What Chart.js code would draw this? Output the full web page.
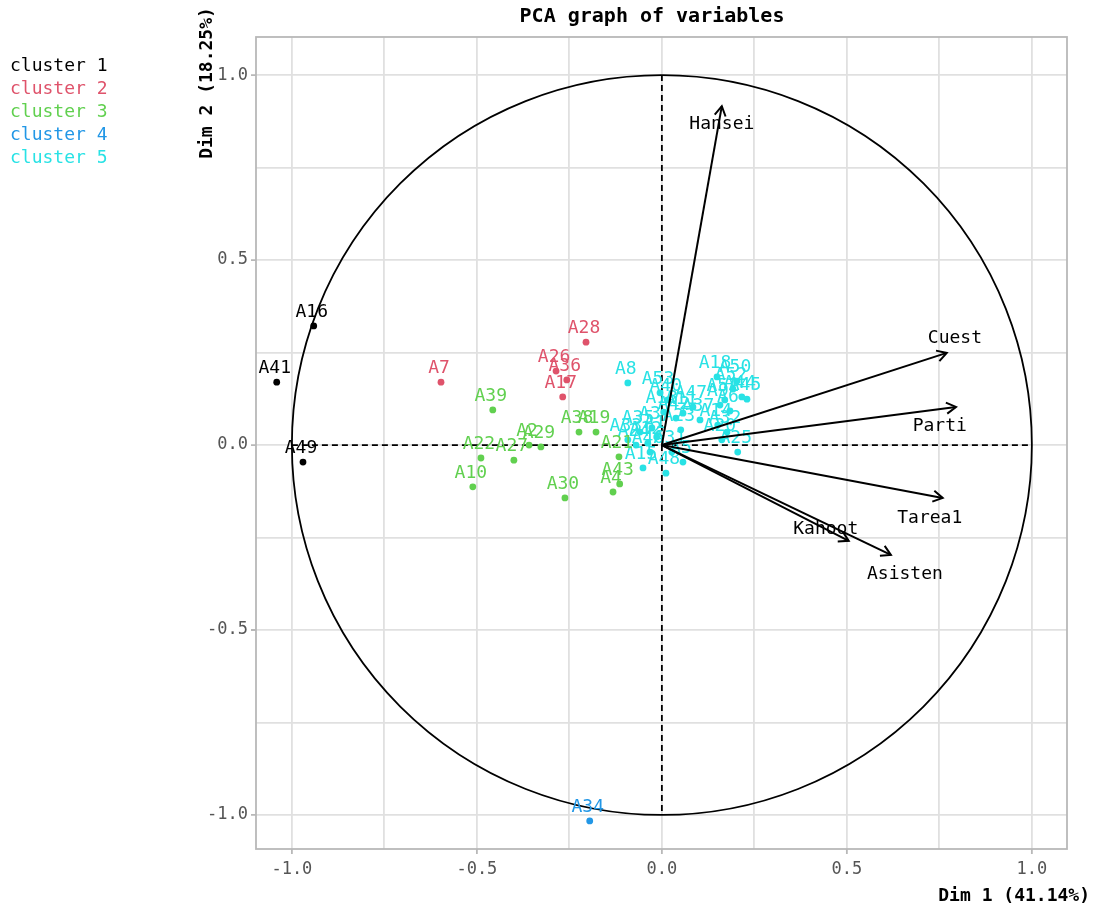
<!DOCTYPE html>
<html>
<head>
<meta charset="utf-8">
<title>PCA graph of variables</title>
<script src="https://cdn.jsdelivr.net/npm/chart.js@4.4.1/dist/chart.umd.min.js"></script>
<style>
  html, body { margin: 0; padding: 0; background: #fff; }
  #wrap { width: 1095px; height: 907px; }
</style>
</head>
<body>
<div id="wrap"><canvas id="pcaChart" width="1095" height="907"></canvas></div>
<script>
// clusters
const clusterNames = ["cluster 1", "cluster 2", "cluster 3", "cluster 4", "cluster 5"];
const clusterColors = ["#000000", "#DF536B", "#61D04F", "#2297E6", "#28E2E5"];

// individuals, cluster by cluster
const c1Labels = ["A16", "A41", "A49"];
const c1Dim1 = [-0.941, -1.041, -0.970];
const c1Dim2 = [0.322, 0.170, -0.046];

const c2Labels = ["A28", "A7", "A26", "A36", "A17"];
const c2Dim1 = [-0.205, -0.597, -0.286, -0.257, -0.268];
const c2Dim2 = [0.278, 0.170, 0.200, 0.176, 0.130];

const c3Labels = ["A39", "A38", "A19", "A2", "A29", "A22", "A27", "A10", "A30", "A43", "A4", "A21"];
const c3Dim1 = [-0.457, -0.224, -0.178, -0.359, -0.327, -0.489, -0.400, -0.511, -0.262, -0.114, -0.132, -0.116];
const c3Dim2 = [0.095, 0.035, 0.035, 0.000, -0.005, -0.035, -0.041, -0.113, -0.143, -0.105, -0.127, -0.032];

const c4Labels = ["A34"];
const c4Dim1 = [-0.195];
const c4Dim2 = [-1.016];

const c5Labels = ["A8", "A18", "A50", "A52", "A45", "A44", "A51", "A9", "A6", "A14", "A32", "A25",
                  "A53", "A40", "A47", "A11", "A42", "A23", "A35", "A3", "A33", "A24", "A12", "A1",
                  "A46", "A48", "A5", "A15", "A31", "A37", "A13", "A20"];
const c5Dim1 = [-0.092, 0.149, 0.203, 0.192, 0.230, 0.216, 0.170, 0.157, 0.184, 0.151, 0.176, 0.205,
                -0.005, 0.016, 0.084, 0.057, 0.038, 0.051, -0.059, -0.027, -0.092, -0.070, -0.038, -0.014,
                -0.032, 0.011, 0.057, -0.051, 0.027, 0.103, 0.005, 0.162];
const c5Dim2 = [0.168, 0.184, 0.173, 0.151, 0.124, 0.130, 0.122, 0.108, 0.092, 0.054, 0.035, -0.019,
                0.141, 0.122, 0.103, 0.086, 0.073, 0.041, 0.035, 0.046, 0.014, 0.000, 0.005, 0.022,
                -0.019, -0.076, -0.046, -0.062, -0.019, 0.068, 0.089, 0.014];

// variables (arrows)
const varNames = ["Hansei", "Cuest", "Parti", "Tarea1", "Kahoot", "Asisten"];
const varDim1 = [0.162, 0.770, 0.795, 0.759, 0.505, 0.619];
const varDim2 = [0.916, 0.249, 0.103, -0.143, -0.259, -0.297];
const varLabelDim1 = [0.162, 0.792, 0.751, 0.724, 0.443, 0.657];
const varLabelDim2 = [0.868, 0.289, 0.051, -0.197, -0.227, -0.349];

const tickValues = [-1, -0.75, -0.5, -0.25, 0, 0.25, 0.5, 0.75, 1];

const MONO = '"DejaVu Sans Mono", "Liberation Mono", monospace';

const clusters = [
    [c1Labels, c1Dim1, c1Dim2],
    [c2Labels, c2Dim1, c2Dim2],
    [c3Labels, c3Dim1, c3Dim2],
    [c4Labels, c4Dim1, c4Dim2],
    [c5Labels, c5Dim1, c5Dim2],
];

const isMajor = (v) => Math.abs(v * 2 - Math.round(v * 2)) < 1e-9;

// arrow shafts first so they are painted on top of the individuals
const arrowSets = varNames.map((name, i) => ({
    label: name,
    data: [{ x: 0, y: 0 }, { x: varDim1[i], y: varDim2[i] }],
    showLine: true,
    borderColor: "#000",
    borderWidth: 2,
    pointRadius: 0,
    fill: false,
}));

const clusterSets = clusters.map(([names, d1, d2], k) => ({
    label: clusterNames[k],
    data: d1.map((x, i) => ({ x: x, y: d2[i] })),
    pointNames: names,
    backgroundColor: clusterColors[k],
    borderColor: clusterColors[k],
    pointRadius: 3.4,
    pointBorderWidth: 0,
}));

const pcaDecor = {
    id: "pcaDecor",
    beforeDatasetsDraw(chart) {
        const { ctx, chartArea: a, scales: { x, y } } = chart;
        ctx.save();
        // panel border
        ctx.strokeStyle = "#b8b8b8";
        ctx.lineWidth = 1.8;
        ctx.strokeRect(a.left, a.top, a.right - a.left, a.bottom - a.top);
        // tick marks on major values
        ctx.beginPath();
        tickValues.filter(isMajor).forEach((v) => {
            const px = x.getPixelForValue(v);
            ctx.moveTo(px, a.bottom);
            ctx.lineTo(px, a.bottom + 5);
            const py = y.getPixelForValue(v);
            ctx.moveTo(a.left, py);
            ctx.lineTo(a.left - 5, py);
        });
        ctx.stroke();

        // correlation circle
        const cx = x.getPixelForValue(0), cy = y.getPixelForValue(0);
        const rx = x.getPixelForValue(1) - cx, ry = cy - y.getPixelForValue(1);
        ctx.strokeStyle = "#000";
        ctx.lineWidth = 1.8;
        ctx.beginPath();
        ctx.ellipse(cx, cy, rx, ry, 0, 0, Math.PI * 2);
        ctx.stroke();

        // dashed axes
        ctx.setLineDash([6, 4]);
        ctx.lineWidth = 1.8;
        ctx.beginPath();
        ctx.moveTo(x.getPixelForValue(-1), cy);
        ctx.lineTo(x.getPixelForValue(1), cy);
        ctx.moveTo(cx, y.getPixelForValue(1));
        ctx.lineTo(cx, y.getPixelForValue(-1));
        ctx.stroke();
        ctx.restore();
    },
    afterDatasetDraw(chart, args) {
        const ds = chart.data.datasets[args.index];
        if (!ds.pointNames) return;
        const { ctx } = chart;
        ctx.save();
        ctx.font = "18px " + MONO;
        ctx.fillStyle = ds.borderColor;
        ctx.textAlign = "center";
        ctx.textBaseline = "middle";
        args.meta.data.forEach((pt, i) => {
            ctx.fillText(ds.pointNames[i], pt.x - 2, pt.y - 14);
        });
        ctx.restore();
    },
    afterDatasetsDraw(chart) {
        const { ctx, scales: { x, y } } = chart;
        ctx.save();
        ctx.strokeStyle = "#000";
        ctx.lineWidth = 2;
        const ox = x.getPixelForValue(0), oy = y.getPixelForValue(0);
        varNames.forEach((name, i) => {
            const tx = x.getPixelForValue(varDim1[i]);
            const ty = y.getPixelForValue(varDim2[i]);
            const ang = Math.atan2(ty - oy, tx - ox);
            const len = 11, spread = Math.PI / 6;
            ctx.beginPath();
            ctx.moveTo(tx - len * Math.cos(ang - spread), ty - len * Math.sin(ang - spread));
            ctx.lineTo(tx, ty);
            ctx.lineTo(tx - len * Math.cos(ang + spread), ty - len * Math.sin(ang + spread));
            ctx.stroke();
        });
        ctx.font = "18px " + MONO;
        ctx.fillStyle = "#000";
        ctx.textAlign = "center";
        ctx.textBaseline = "middle";
        varNames.forEach((name, i) => {
            ctx.fillText(name, x.getPixelForValue(varLabelDim1[i]), y.getPixelForValue(varLabelDim2[i]));
        });
        ctx.restore();
    },
    afterDraw(chart) {
        const { ctx } = chart;
        ctx.save();
        ctx.fillStyle = "#000";
        ctx.textBaseline = "middle";
        // title
        ctx.font = "bold 20px " + MONO;
        ctx.textAlign = "center";
        ctx.fillText("PCA graph of variables", 652, 17);
        // axis titles
        ctx.font = "bold 18px " + MONO;
        ctx.textAlign = "right";
        ctx.fillText("Dim 1 (41.14%)", 1090, 896);
        ctx.translate(207, 83);
        ctx.rotate(-Math.PI / 2);
        ctx.textAlign = "center";
        ctx.fillText("Dim 2 (18.25%)", 0, 0);
        ctx.restore();

        // legend (text only, coloured by cluster)
        ctx.save();
        ctx.font = "18px " + MONO;
        ctx.textAlign = "left";
        ctx.textBaseline = "middle";
        clusterNames.forEach((name, k) => {
            ctx.fillStyle = clusterColors[k];
            ctx.fillText(name, 10, 66 + k * 23);
        });
        ctx.restore();
    },
};

const axisCommon = {
    type: "linear",
    afterBuildTicks: (s) => { s.ticks = tickValues.map((v) => ({ value: v })); },
    grid: { color: "#e0e0e0", lineWidth: 1.8, drawTicks: false },
    border: { display: false },
    ticks: {
        color: "#555",
        font: { family: MONO, size: 17 },
        autoSkip: false,
        maxRotation: 0,
        callback: (v) => (isMajor(v) ? v.toFixed(1) : ""),
    },
};

new Chart(document.getElementById("pcaChart").getContext("2d"), {
    type: "scatter",
    data: { datasets: [...arrowSets, ...clusterSets] },
    options: {
        responsive: false,
        animation: false,
        layout: { padding: { left: 0, top: 37, right: 28, bottom: 0 } },
        plugins: { legend: { display: false }, tooltip: { enabled: false }, title: { display: false } },
        scales: {
            x: {
                ...axisCommon,
                min: -1.097,
                max: 1.095,
                ticks: { ...axisCommon.ticks, padding: 10 },
                afterFit: (s) => { s.height = 58; },
            },
            y: {
                ...axisCommon,
                min: -1.092,
                max: 1.103,
                ticks: { ...axisCommon.ticks, padding: 8 },
                afterFit: (s) => { s.width = 256; },
            },
        },
    },
    plugins: [pcaDecor],
});
</script>
</body>
</html>
